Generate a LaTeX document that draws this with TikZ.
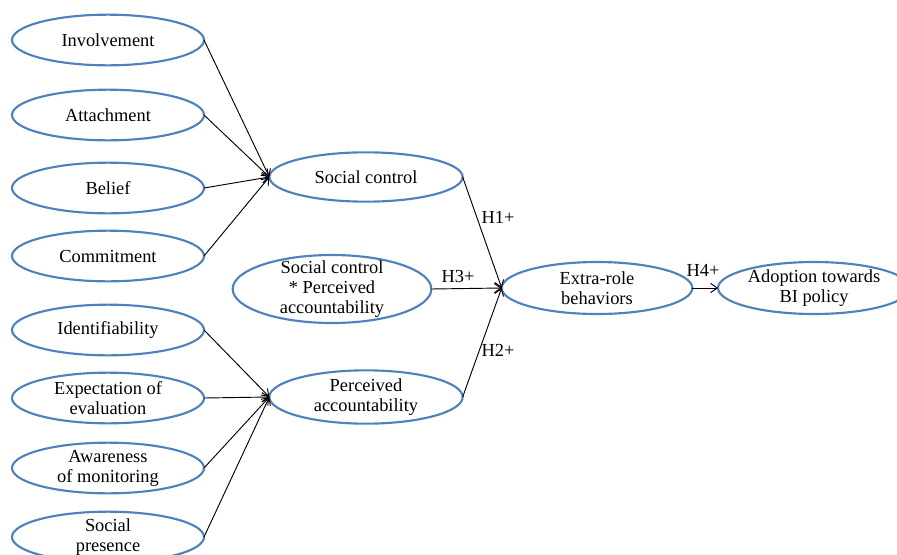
\documentclass[tikz,border=0pt]{standalone}
\usepackage{fontspec}
\setmainfont{Liberation Serif}
\usetikzlibrary{shapes.geometric,arrows.meta}
\definecolor{ellblue}{RGB}{79,129,189}
\begin{document}
\begin{tikzpicture}[x=0.75pt,y=-0.75pt,
 ell/.style={ellipse, draw=ellblue, line width=1.6pt, inner sep=0pt, outer sep=0pt,
   minimum width=144pt, minimum height=38pt},
 txt/.style={font=\fontsize{13.8}{15}\selectfont, align=center, inner sep=0pt},
 conn/.style={-{Straight Barb[length=5pt,width=7pt]}, line width=0.7pt, black},
 hlab/.style={font=\fontsize{13.8}{15}\selectfont, inner sep=0pt}]
\clip (0,0) rectangle (897,554);
% left column
\node[ell, label={[txt]center:Involvement}] (inv) at (108,40) {};
\node[ell, label={[txt]center:Attachment}] (att) at (108,115) {};
\node[ell, label={[txt]center:Belief}] (bel) at (108,188) {};
\node[ell, label={[txt]center:Commitment}] (com) at (108,256) {};
\node[ell, label={[txt]center:Identifiability}] (ide) at (108,330) {};
\node[ell, label={[txt]center:Expectation of\\evaluation}] (exp) at (108,398) {};
\node[ell, label={[txt]center:Awareness\\of monitoring}] (awa) at (108,468) {};
\node[ell, label={[txt]center:Social\\presence}] (spr) at (108,537) {};
% middle
\node[ell, minimum width=145pt, minimum height=37pt, label={[txt]center:Social control}] (sc) at (366,177) {};
\node[ell, minimum width=149pt, minimum height=51pt, label={[txt]center:Social control\\* Perceived\\accountability}] (scpa) at (332,289) {};
\node[ell, minimum width=145pt, minimum height=40pt, label={[txt]center:Perceived\\accountability}] (pa) at (366,397) {};
% right
\node[ell, minimum width=143pt, minimum height=39pt, label={[txt]center:Extra-role\\behaviors}] (erb) at (597,288) {};
\node[ell, minimum width=144pt, minimum height=39pt, label={[txt]center:Adoption towards\\BI policy}] (adp) at (814,288) {};
% connectors
\foreach \s in {inv,att,bel,com} \draw[conn] (\s.east) -- (sc.west);
\foreach \s in {ide,exp,awa,spr} \draw[conn] (\s.east) -- (pa.west);
\draw[conn] (sc.east) -- (erb.west);
\draw[conn] (scpa.east) -- (erb.west);
\draw[conn] (pa.east) -- (erb.west);
\draw[conn] (erb.east) -- (adp.west);
% hypothesis labels
\node[hlab] (h1) at (498,217) {H1+};
\node[hlab] (h3) at (458,276) {H3+};
\node[hlab] (h2) at (498,350) {H2+};
\node[hlab] (h4) at (703,270) {H4+};
\end{tikzpicture}
\end{document}
